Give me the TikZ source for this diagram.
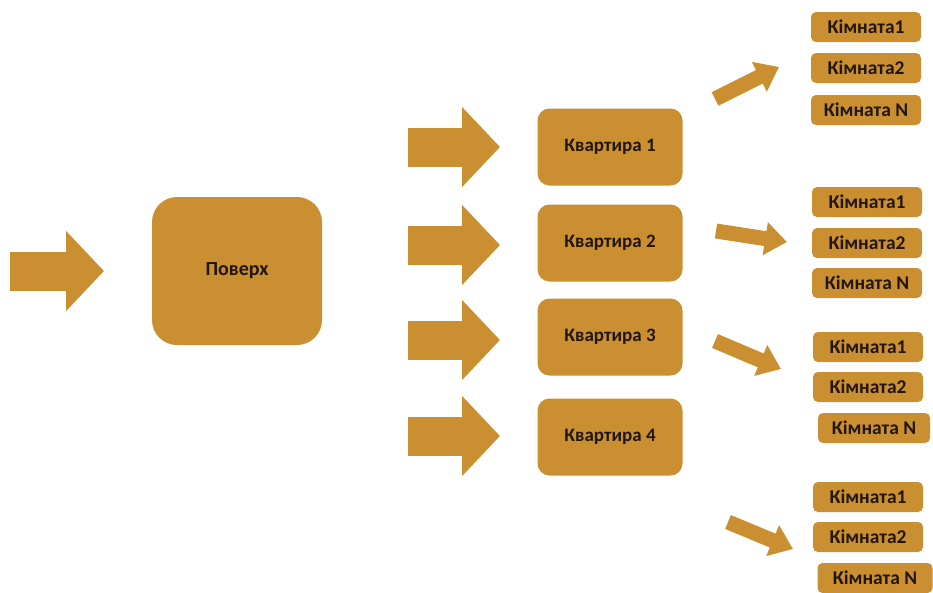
\documentclass[tikz,border=0pt]{standalone}
\usepackage{fontspec}
\setmainfont{Carlito}
\usetikzlibrary{arrows.meta}
\definecolor{gold}{HTML}{C98F31}
\definecolor{ink}{HTML}{22160A}
\tikzset{
  x=1pt,y=-1pt,
  box/.style={fill=gold,draw=none,text=ink,font=\bfseries\fontsize{19}{19}\selectfont,align=center,inner sep=0pt},
  big/.style={box,minimum width=170,minimum height=148,rounded corners=25,font=\bfseries\fontsize{20}{20}\selectfont},
  flat/.style={box,minimum width=145,minimum height=77,rounded corners=12},
  room/.style={box,minimum width=110,minimum height=30,rounded corners=5,font=\bfseries\fontsize{19.5}{19.5}\selectfont},
  fatarrow/.style={draw=gold,line width=39,-{Triangle[length=38,width=78]}},
  thinarrow/.style={draw=gold,line width=15,-{Triangle[length=22,width=32]}}
}
\begin{document}
\begin{tikzpicture}
\useasboundingbox (0,0) rectangle (933,592);
\node[big] (top) at (237,271) {Поверх};
\node[flat] (k1) at (610,147) {Квартира 1};
\node[flat] (k2) at (610,243) {Квартира 2};
\node[flat] (k3) at (610,337) {Квартира 3};
\node[flat] (k4) at (610,437) {Квартира 4};
% rooms
\node[room] (r11) at (866,27) {Кімната1};
\node[room] (r12) at (866,68) {Кімната2};
\node[room] (r13) at (866,110) {Кімната N};
\node[room] (r21) at (867,202) {Кімната1};
\node[room] (r22) at (867,243) {Кімната2};
\node[room] (r23) at (867,283) {Кімната N};
\node[room] (r31) at (868,347) {Кімната1};
\node[room] (r32) at (868,387) {Кімната2};
\node[room,minimum width=112] (r33) at (874,428) {Кімната N};
\node[room] (r41) at (868,497) {Кімната1};
\node[room] (r42) at (868,537) {Кімната2};
\node[room,minimum width=115] (r43) at (875,578) {Кімната N};
% arrow coordinates
\coordinate (a0s) at (10,271);  \coordinate (a0e) at (104,271);
\coordinate (a1s) at (408,147); \coordinate (a1e) at (500,147);
\coordinate (a2s) at (408,245); \coordinate (a2e) at (500,245);
\coordinate (a3s) at (408,340); \coordinate (a3e) at (500,340);
\coordinate (a4s) at (408,436); \coordinate (a4e) at (500,436);
\coordinate (b1s) at (715,99);  \coordinate (b1e) at (779,67);
\coordinate (b2s) at (716,231); \coordinate (b2e) at (787,242);
\coordinate (b3s) at (715,341); \coordinate (b3e) at (781,369);
\coordinate (b4s) at (728,522); \coordinate (b4e) at (793,549);
\draw[fatarrow] (a0s) -- (a0e);
\draw[fatarrow] (a1s) -- (a1e);
\draw[fatarrow] (a2s) -- (a2e);
\draw[fatarrow] (a3s) -- (a3e);
\draw[fatarrow] (a4s) -- (a4e);
\draw[thinarrow] (b1s) -- (b1e);
\draw[thinarrow] (b2s) -- (b2e);
\draw[thinarrow] (b3s) -- (b3e);
\draw[thinarrow] (b4s) -- (b4e);
\end{tikzpicture}
\end{document}
